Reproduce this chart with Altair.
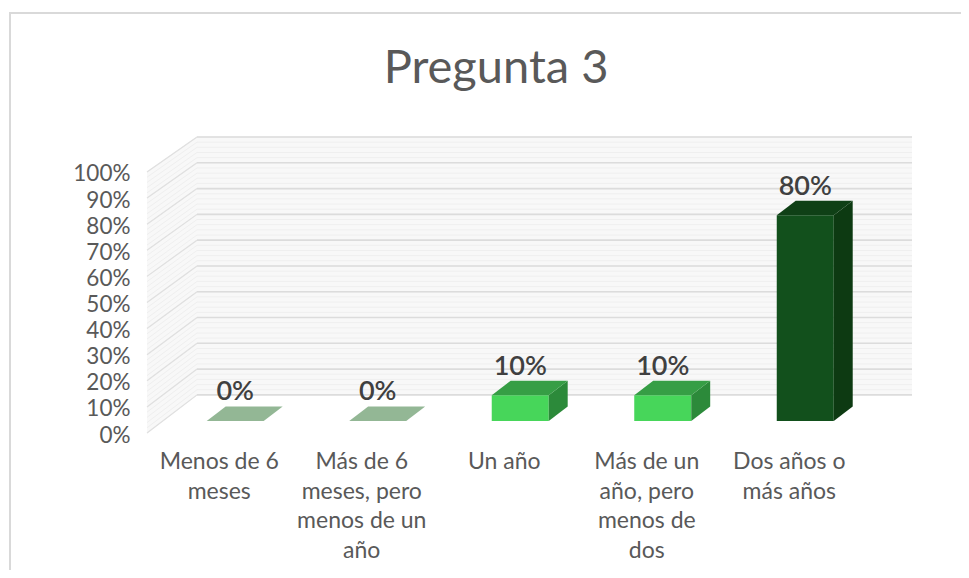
import altair as alt
import pandas as pd

TITLE = "Pregunta 3"
categories = ["Menos de 6\nmeses", "Más de 6\nmeses, pero\nmenos de un\naño", "Un año",
              "Más de un\naño, pero\nmenos de\ndos", "Dos años o\nmás años"]
values = [0, 0, 10, 10, 80]
labels = ["0%", "0%", "10%", "10%", "80%"]
front_colors = ["#93B795", "#93B795", "#47D65A", "#47D65A", "#12501C"]
top_colors = ["#93B795", "#93B795", "#369E45", "#369E45", "#0F4016"]
side_colors = ["#93B795", "#93B795", "#2C8A3A", "#2C8A3A", "#0D3A12"]
y_ticks = list(range(0, 101, 10))
y_minor = list(range(0, 101, 2))

FONT = "Lato"
# 3-D projection constants, in axis units
WALL_DU, WALL_DV, PERSP = 0.351, 14.6, 0.988
BAR_SHIFT_U, BAR_BASE = 0.119, 4.6
BAR_W, BAR_DU, BAR_DV, BAR_K = 0.4, 0.133, 5.6, 0.985
XMAX, YMAX = 5.368, 113.4

xs = alt.Scale(domain=[0, XMAX], nice=False, zero=False)
ys = alt.Scale(domain=[0, YMAX], nice=False, zero=False)
y_axis = alt.Axis(
    values=y_ticks, labelExpr="datum.value + '%'", title=None, domain=False, ticks=False,
    grid=False, labelFont=FONT, labelFontSize=22.5, labelColor="#595959", labelPadding=17,
    labelOffset=2)
X = lambda f="x": alt.X(f"{f}:Q", scale=xs, axis=None)
Y = lambda f="y": alt.Y(f"{f}:Q", scale=ys, axis=y_axis)
back = lambda v: WALL_DV + v * PERSP

# walls
side_wall = alt.Chart(pd.DataFrame({
    "x": [0, WALL_DU], "y": [0, back(0)], "y2": [100, back(100)]})
).mark_area(color="#F8F8F8").encode(X(), Y(), y2="y2:Q")
back_wall = alt.Chart(pd.DataFrame({
    "x": [WALL_DU, XMAX], "y": [back(0)] * 2, "y2": [back(100)] * 2})
).mark_area(color="#F8F8F8").encode(X(), Y(), y2="y2:Q")


def grid_rows(ticks):
    return pd.DataFrame({"x": [0.0] * len(ticks), "x2": [WALL_DU] * len(ticks),
                         "x3": [XMAX] * len(ticks), "y": ticks,
                         "yb": [back(v) for v in ticks]})


minor_side = alt.Chart(grid_rows(y_minor)).mark_rule(color="#EFEFEF", strokeWidth=1).encode(
    X(), x2="x2:Q", y=Y(), y2="yb:Q")
minor_back = alt.Chart(grid_rows(y_minor)).mark_rule(color="#EFEFEF", strokeWidth=1).encode(
    X("x2"), x2="x3:Q", y=Y("yb"))
major_side = alt.Chart(grid_rows(y_ticks)).mark_rule(color="#E0E0E0", strokeWidth=1.2).encode(
    X(), x2="x2:Q", y=Y(), y2="yb:Q")
major_back = alt.Chart(grid_rows(y_ticks)).mark_rule(color="#DCDCDC", strokeWidth=1.6).encode(
    X("x2"), x2="x3:Q", y=Y("yb"))

# bars
layers = []
for i, v in enumerate(values):
    left = i + 0.5 + BAR_SHIFT_U - BAR_W / 2
    right = left + BAR_W
    top = BAR_BASE + v * BAR_K
    if v > 0:
        layers.append(alt.Chart(pd.DataFrame({
            "x": [left], "x2": [right], "y": [BAR_BASE], "y2": [top]})
        ).mark_rect(color=front_colors[i]).encode(X(), x2="x2:Q", y=Y(), y2="y2:Q"))
        layers.append(alt.Chart(pd.DataFrame({
            "x": [right, right + BAR_DU], "y": [BAR_BASE, BAR_BASE + BAR_DV],
            "y2": [top, top + BAR_DV]})
        ).mark_area(color=side_colors[i]).encode(X(), Y(), y2="y2:Q"))
    layers.append(alt.Chart(pd.DataFrame({
        "y": [top, top + BAR_DV], "x": [left, left + BAR_DU], "x2": [right, right + BAR_DU]})
    ).mark_area(orient="horizontal", color=top_colors[i]).encode(X(), x2="x2:Q", y=Y()))

label_df = pd.DataFrame({
    "x": [i + 0.5 + BAR_SHIFT_U for i in range(5)],
    "y": [BAR_BASE + v * BAR_K + BAR_DV for v in values],
    "t": labels})
bar_labels = alt.Chart(label_df).mark_text(
    font=FONT, fontSize=27, fontWeight=600, color="#404040", baseline="middle", dy=-14
).encode(X(), Y(), text="t:N")

cat_df = pd.DataFrame({"x": [i + 0.5 + 0.007 for i in range(5)], "t": categories})
cat_labels = alt.Chart(cat_df).mark_text(
    font=FONT, fontSize=23, color="#595959", baseline="top", align="center",
    lineBreak="\n", lineHeight=29.5
).encode(X(), y=alt.value(314), text="t:N")

title_text = alt.Chart(pd.DataFrame({"x": [(496 - 147) / 142.5], "t": [TITLE]})).mark_text(
    font=FONT, fontSize=47, color="#595959", baseline="middle", align="center"
).encode(X(), y=alt.value(-68), text="t:N")

frame = alt.Chart(pd.DataFrame({"a": [0]})).mark_rect(
    fill="transparent", stroke="#D9D9D9", strokeWidth=2
).encode(x=alt.value(-137), x2=alt.value(900), y=alt.value(-124), y2=alt.value(500))

chart = alt.layer(
    frame, side_wall, back_wall, minor_side, minor_back, major_side, major_back,
    *layers, bar_labels, cat_labels, title_text
).properties(
    width=765, height=296, padding={"left": 139, "top": 129, "right": 49, "bottom": 137},
    autosize=alt.AutoSizeParams(type="none"), background="white"
).configure_view(stroke=None)

chart.save("out.html", embed_options={"renderer": "svg", "actions": False})
